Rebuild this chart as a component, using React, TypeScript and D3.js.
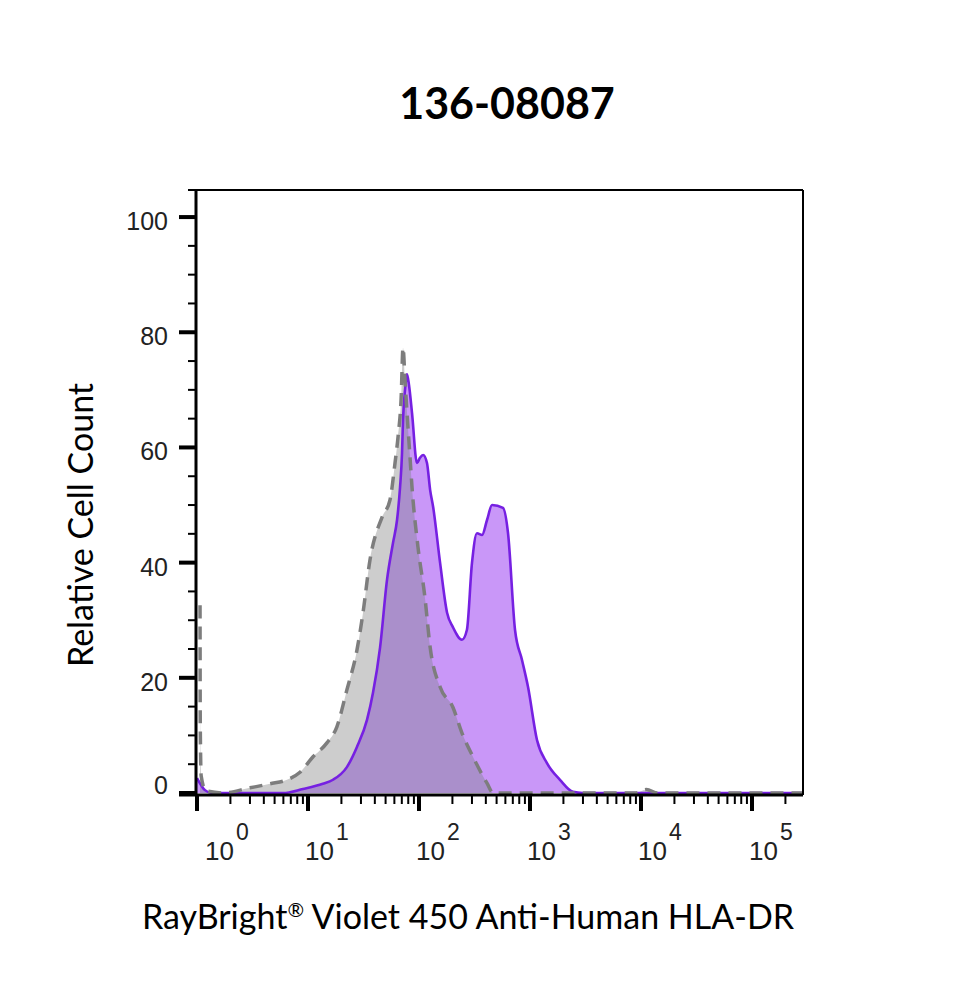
import React from 'react';
import * as d3 from 'd3';

// ---- data ----
const TITLE = '136-08087';
const X_LABEL_MAIN = 'RayBright';
const X_LABEL_MARK = '®';
const X_LABEL_REST = ' Violet 450 Anti-Human HLA-DR';
const Y_LABEL = 'Relative Cell Count';

// isotype control (gray, dashed)
const grayIntensity = [1.065, 1.07, 1.09, 1.2, 1.71, 3.0, 4.55, 6.47, 8.47, 11.1, 14.8, 18.2, 22.4, 27.6, 31.3, 36.2, 46.5, 54.8, 60.8, 64.7, 68.9, 71.8, 74.8, 78.0, 83.0, 86.5, 97.9, 113, 126, 155, 202, 244, 306, 410, 465, 8900, 11200, 14100, 288000];
const grayCount = [32.6, 12.0, 3.0, 0.4, 0, 0.9, 1.6, 2.3, 3.6, 6.3, 8.7, 11.5, 17.9, 24.8, 31.3, 40.5, 47.9, 50.9, 57.3, 61.8, 68.2, 77.3, 71.7, 66.0, 58.3, 53.1, 42.7, 34.0, 25.3, 18.4, 14.9, 10.4, 6.3, 1.7, 0, 0, 0.6, 0, 0];

// stained sample (purple)
const purpleIntensity = [1, 1.18, 1.36, 5.96, 9.0, 13.6, 16.8, 22.4, 27.6, 34.0, 38.5, 44.6, 51.5, 58.3, 63.4, 67.5, 70.3, 71.8, 74.8, 78.0, 81.3, 86.5, 95.9, 102, 109, 118, 126, 134, 155, 179, 202, 244, 270, 300, 333, 370, 410, 455, 571, 634, 733, 847, 960, 1156, 1422, 1862, 2438, 3000, 288000];
const purpleCount = [2.6, 0.5, 0, 0, 0.7, 1.6, 2.3, 4.5, 8.0, 12.7, 17.4, 25.3, 37.0, 43.4, 47.4, 53.1, 59.0, 64.8, 70.0, 72.7, 70.8, 66.0, 57.3, 58.2, 58.7, 57.3, 52.6, 49.7, 39.9, 31.3, 28.8, 26.6, 28.3, 39.9, 45.1, 44.8, 47.4, 50.0, 49.5, 45.1, 28.3, 23.1, 18.4, 9.2, 5.2, 2.3, 0.2, 0, 0];

const yMajorTicks = [0, 20, 40, 60, 80, 100];
const yMinorTicks = [5, 10, 15, 25, 30, 35, 45, 50, 55, 65, 70, 75, 85, 90, 95];
const xDecades = [0, 1, 2, 3, 4, 5];
const xMinorMultipliers = [2, 3, 4, 5, 6, 7, 8, 9];

const X_MAX = 288000;
const Y_MAX = 104.7;

export default function App() {
  const width = 965;
  const height = 1000;
  const left = 197, right = 803, top = 190, bottom = 793;
  const axisY = 795;

  const x = d3.scaleLog().domain([1, X_MAX]).range([left, right]);
  const y = d3.scaleLinear().domain([0, Y_MAX]).range([bottom, top]);

  const gray = grayIntensity.map((v, i) => [v, grayCount[i]] as [number, number]);
  const purple = purpleIntensity.map((v, i) => [v, purpleCount[i]] as [number, number]);

  const area = d3.area<[number, number]>()
    .x(d => x(d[0]))
    .y0(y(0))
    .y1(d => y(d[1]))
    .curve(d3.curveMonotoneX);
  const line = d3.line<[number, number]>()
    .x(d => x(d[0]))
    .y(d => y(d[1]))
    .curve(d3.curveMonotoneX);

  const majorX = xDecades.map(d => Math.pow(10, d));
  const minorX: number[] = [];
  xDecades.forEach(d => xMinorMultipliers.forEach(m => {
    const v = m * Math.pow(10, d);
    if (v <= X_MAX) minorX.push(v);
  }));

  const tickFont = '"Liberation Sans", Arial, sans-serif';
  const labelFont = 'Lato, "Open Sans", sans-serif';

  return (
    <svg width={width} height={height} style={{ position: 'absolute', left: 0, top: 0, background: '#fff' }}>
      <defs>
        <clipPath id="purpleClip">
          <path d={area(purple) || ''} />
        </clipPath>
      </defs>
      <rect x={0} y={0} width={width} height={height} fill="#fff" />

      {/* title */}
      <text x={507} y={119} textAnchor="middle" fontFamily={labelFont} fontWeight={700} fontSize={43} fill="#000">{TITLE}</text>

      {/* fills */}
      <path d={area(gray) || ''} fill="#cdcdcd" />
      <path d={area(purple) || ''} fill="#c997f8" />
      <path d={area(gray) || ''} fill="#aa8fcb" clipPath="url(#purpleClip)" />
      <path d={line(purple) || ''} fill="none" stroke="#7620e2" strokeWidth={2.6} strokeLinejoin="round" />
      <path d={line(gray) || ''} fill="none" stroke="#7d7d7d" strokeWidth={3.5} strokeDasharray="13 8" />

      {/* frame */}
      <line x1={188} x2={right} y1={top} y2={top} stroke="#000" strokeWidth={2} />
      <line x1={right} x2={right} y1={top} y2={axisY} stroke="#000" strokeWidth={2} />
      <line x1={left - 1} x2={left - 1} y1={top} y2={axisY} stroke="#000" strokeWidth={3} />
      <line x1={179} x2={right} y1={axisY} y2={axisY} stroke="#000" strokeWidth={3} />

      {/* y ticks */}
      {yMinorTicks.map(t => (
        <line key={'ym' + t} x1={188} x2={left} y1={y(t)} y2={y(t)} stroke="#000" strokeWidth={2} />
      ))}
      {yMajorTicks.map(t => (
        <g key={'yM' + t}>
          <line x1={179} x2={left} y1={y(t)} y2={y(t)} stroke="#000" strokeWidth={4} />
          <text x={168} y={t === 0 ? y(t) + 1 : y(t) + 13} textAnchor="end" fontFamily={tickFont} fontSize={25} fill="#222">{t}</text>
        </g>
      ))}

      {/* x ticks */}
      {minorX.map((v, i) => (
        <line key={'xm' + i} x1={x(v)} x2={x(v)} y1={axisY} y2={804} stroke="#000" strokeWidth={2} />
      ))}
      {majorX.map((v, i) => {
        const tx = x(v);
        const bx = i === 0 ? tx + 8 : tx - 3;
        return (
          <g key={'xM' + i}>
            <line x1={tx} x2={tx} y1={axisY} y2={811} stroke="#000" strokeWidth={4} />
            <text x={bx} y={860} fontFamily={tickFont} fontSize={26} fill="#222">10</text>
            <text x={bx + 31} y={840} fontFamily={tickFont} fontSize={23} fill="#222">{xDecades[i]}</text>
          </g>
        );
      })}

      {/* axis labels */}
      <text x={468} y={929} textAnchor="middle" fontFamily={labelFont} fontSize={34} fill="#000">
        <tspan>{X_LABEL_MAIN}</tspan>
        <tspan fontSize={20} dy={-12}>{X_LABEL_MARK}</tspan>
        <tspan dy={12}>{X_LABEL_REST}</tspan>
      </text>
      <text transform="translate(93,525) rotate(-90)" textAnchor="middle" fontFamily={labelFont} fontSize={34} fill="#000">{Y_LABEL}</text>
    </svg>
  );
}
